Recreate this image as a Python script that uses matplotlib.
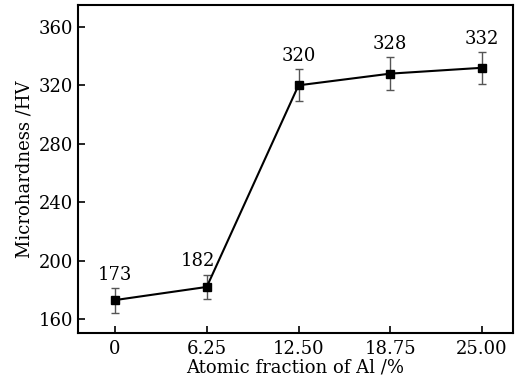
import numpy as np
import matplotlib.pyplot as plt

al_fraction = [0, 6.25, 12.50, 18.75, 25.00]
tick_labels = ['0', '6.25', '12.50', '18.75', '25.00']
hardness = [173, 182, 320, 328, 332]
hardness_err = [8.5, 8.5, 11, 11.5, 11]

plt.rcParams['font.family'] = ['DejaVu Serif']

fig = plt.figure(figsize=(5.17, 3.82), dpi=100)
ax = fig.add_axes([0.150, 0.128, 0.842, 0.859])

ax.errorbar(al_fraction, hardness, yerr=hardness_err, fmt='none',
            ecolor='#555555', elinewidth=1.0, capsize=3, capthick=1.0, zorder=2)
ax.plot(al_fraction, hardness, color='black', lw=1.5, marker='s',
        markersize=5.5, markerfacecolor='black', zorder=3)

# value labels above the error bars
label_dx = [0, -6, 0, 0, 0]
for x, y, e, dx in zip(al_fraction, hardness, hardness_err, label_dx):
    ax.annotate(str(y), (x, y + e), xytext=(dx, 3), textcoords='offset points',
                ha='center', va='bottom', fontsize=13)

ax.set_xlim(-2.55, 27.1)
ax.set_ylim(150.4, 375)
ax.set_xticks(al_fraction)
ax.set_xticklabels(tick_labels)
ax.set_yticks(np.arange(160, 361, 40))
ax.tick_params(direction='in', length=5, width=1.2, labelsize=13)
ax.tick_params(axis='y', pad=3)
ax.tick_params(axis='x', pad=5)
for sp in ax.spines.values():
    sp.set_linewidth(1.5)

ax.set_xlabel('Atomic fraction of Al /%', fontsize=13, labelpad=0)
ax.set_ylabel('Microhardness /HV', fontsize=13, labelpad=4)

fig.savefig('out.png', dpi=100)
